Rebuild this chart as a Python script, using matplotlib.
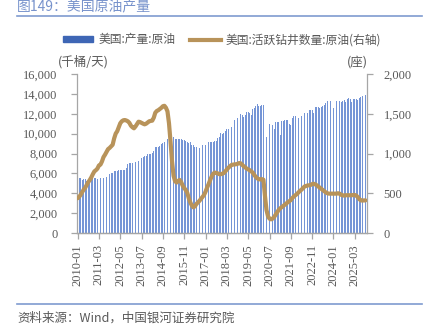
import matplotlib.pyplot as plt
import matplotlib.lines as mlines
import matplotlib.patches as mpatches
import pandas as pd

plt.rcParams['font.family'] = ['Noto Sans CJK SC', 'DejaVu Sans']

# monthly data, 2010-01 .. 2025-10
months = pd.date_range('2010-01', periods=190, freq='MS').strftime('%Y-%m').tolist()

# US crude oil production, thousand barrels / day
production = [
    5340, 5530, 5520, 5380, 5410, 5450, 5210, 5350, 5540, 5460, 5590, 5510,   # 2010
    5500, 5450, 5600, 5580, 5620, 5580, 5500, 5620, 5700, 5900, 6000, 6050,   # 2011
    6200, 6250, 6280, 6300, 6330, 6300, 6380, 6300, 6500, 6950, 7000, 7050,   # 2012
    7090, 7140, 7180, 7410, 7290, 7260, 7510, 7650, 7770, 7700, 7980, 7970,   # 2013
    8000, 8100, 8230, 8610, 8680, 8690, 8770, 8910, 9050, 9170, 9210, 9440,   # 2014
    9380, 9510, 9640, 9700, 9430, 9440, 9440, 9430, 9450, 9380, 9320, 9270,   # 2015
    9190, 9090, 9110, 8890, 8830, 8680, 8670, 8700, 8560, 8810, 8880, 8800,   # 2016
    8880, 9110, 9180, 9110, 9170, 9110, 9240, 9260, 9510, 9660, 10070, 9990,  # 2017
    10020, 10270, 10470, 10490, 10440, 10640, 10890, 11350, 11480, 11560, 11910, 11960,  # 2018
    11870, 11670, 11910, 12140, 12160, 12110, 11910, 12480, 12570, 12780, 12960, 12800,  # 2019
    12820, 12860, 12840, 12000, 9710, 10440, 10980, 10580, 10880, 10420, 11160, 11130,   # 2020
    11150, 9900, 11310, 11280, 11370, 11350, 11370, 11010, 10870, 11580, 11800, 11730,   # 2021
    11380, 11560, 11840, 11780, 11880, 12030, 11930, 12030, 12390, 12360, 12380, 12080,  # 2022
    12630, 12650, 12640, 12620, 12650, 12810, 12930, 13070, 13240, 13260, 13300, 13310,  # 2023
    12590, 13240, 13280, 13220, 13260, 13230, 13240, 13370, 13220, 13460, 13580, 13490,  # 2024
    13150, 13450, 13500, 13470, 13430, 13600, 13640, 13790, 13840, 13870,                # 2025
]

# US active oil rigs (right axis)
rigs = [
    437, 455, 480, 515, 545, 570, 605, 640, 667, 700, 740, 775,
    790, 810, 850, 860, 900, 955, 985, 1020, 1055, 1070, 1090, 1110,
    1190, 1250, 1280, 1330, 1380, 1405, 1418, 1421, 1415, 1405, 1385, 1350,
    1330, 1317, 1340, 1370, 1400, 1395, 1385, 1375, 1367, 1375, 1390, 1405,
    1410, 1413, 1450, 1513, 1535, 1545, 1560, 1575, 1595, 1600, 1575, 1530,
    1380, 1150, 900, 720, 650, 635, 655, 667, 640, 595, 565, 541,
    505, 437, 385, 345, 323, 335, 365, 385, 405, 430, 455, 478,
    520, 570, 615, 665, 710, 745, 760, 755, 750, 740, 740, 745,
    755, 775, 800, 820, 840, 855, 860, 862, 865, 870, 880, 877,
    860, 840, 826, 810, 800, 790, 775, 760, 730, 705, 688, 675,
    675, 678, 670, 470, 290, 210, 180, 172, 180, 200, 230, 260,
    290, 310, 325, 340, 355, 370, 388, 400, 415, 440, 460, 475,
    490, 510, 530, 545, 565, 585, 592, 598, 600, 605, 615, 620,
    612, 600, 585, 570, 555, 540, 525, 510, 500, 495, 495, 495,
    495, 495, 495, 500, 495, 480, 475, 470, 475, 475, 475, 475,
    475, 478, 478, 470, 450, 425, 410, 408, 410, 410,
]

bar_color = '#7595d6'
line_color = '#b8935a'
grey = '#595959'
serif = 'Liberation Serif'

fig = plt.figure(figsize=(4.25, 3.36), dpi=100)
ax = fig.add_axes([77 / 425, 1 - 233 / 336, 290 / 425, 159 / 336])
ax2 = ax.twinx()

x = list(range(len(months)))
ax.bar(x, production, width=0.55, color=bar_color, edgecolor='none', zorder=2)
ax2.plot(x, rigs, color=line_color, lw=3, solid_capstyle='round', zorder=3)

ax.set_xlim(-0.4, 190)
ax.set_ylim(0, 16000)
ax2.set_ylim(0, 2000)
ax.set_yticks(range(0, 16001, 2000))
ax.set_yticklabels([f'{v:,}' for v in range(0, 16001, 2000)])
ax2.set_yticks(range(0, 2001, 500))
ax2.set_yticklabels([f'{v:,}' for v in range(0, 2001, 500)])

tick_idx = list(range(0, len(months), 14))
ax.set_xticks(tick_idx)
ax.set_xticklabels([months[i] for i in tick_idx], rotation=90)

for a in (ax, ax2):
    a.spines['top'].set_visible(False)
    for s in ('left', 'right', 'bottom'):
        a.spines[s].set_color('#a6a6a6')
        a.spines[s].set_linewidth(0.9)
    a.tick_params(colors='#a6a6a6', labelcolor=grey, length=4, width=0.9)
    for lab in a.get_xticklabels() + a.get_yticklabels():
        lab.set_fontfamily(serif)
        lab.set_fontsize(9)
ax.tick_params(axis='y', pad=10)
ax2.tick_params(axis='y', pad=8)
ax.tick_params(axis='x', pad=4)
ax2.spines['left'].set_visible(False)
ax.spines['right'].set_visible(False)

# title and frame lines
fig.text(17 / 425, 1 - 6 / 336, '图149：美国原油产量', color='#7893cc', fontsize=10,
         ha='left', va='center')
fig.add_artist(mlines.Line2D([17 / 425, 422 / 425], [1 - 16 / 336] * 2, color='#7f9bd0', lw=1.2))
fig.add_artist(mlines.Line2D([17 / 425, 422 / 425], [1 - 304 / 336] * 2, color='#7f9bd0', lw=1.2))
fig.text(17 / 425, 1 - 318 / 336, '资料来源：Wind，中国银河证券研究院', color=grey, fontsize=9,
         ha='left', va='center', style='italic')

# units
fig.text(58 / 425, 1 - 62 / 336, '(千桶/天)', color=grey, fontsize=9, ha='left', va='center')
fig.text(368 / 425, 1 - 62 / 336, '(座)', color=grey, fontsize=9, ha='right', va='center')

# legend
h1 = mpatches.Patch(color='#3e66b5', label='美国:产量:原油')
h2 = mlines.Line2D([], [], color=line_color, lw=3, label='美国:活跃钻井数量:原油(右轴)')
fig.legend(handles=[h1, h2], loc='center', bbox_to_anchor=(222 / 425, 1 - 40 / 336), ncol=2,
           frameon=False, fontsize=8.5, handlelength=2.6, handleheight=0.4, columnspacing=1.3,
           handletextpad=0.4, labelcolor=grey)

fig.savefig('out.png', dpi=100)
